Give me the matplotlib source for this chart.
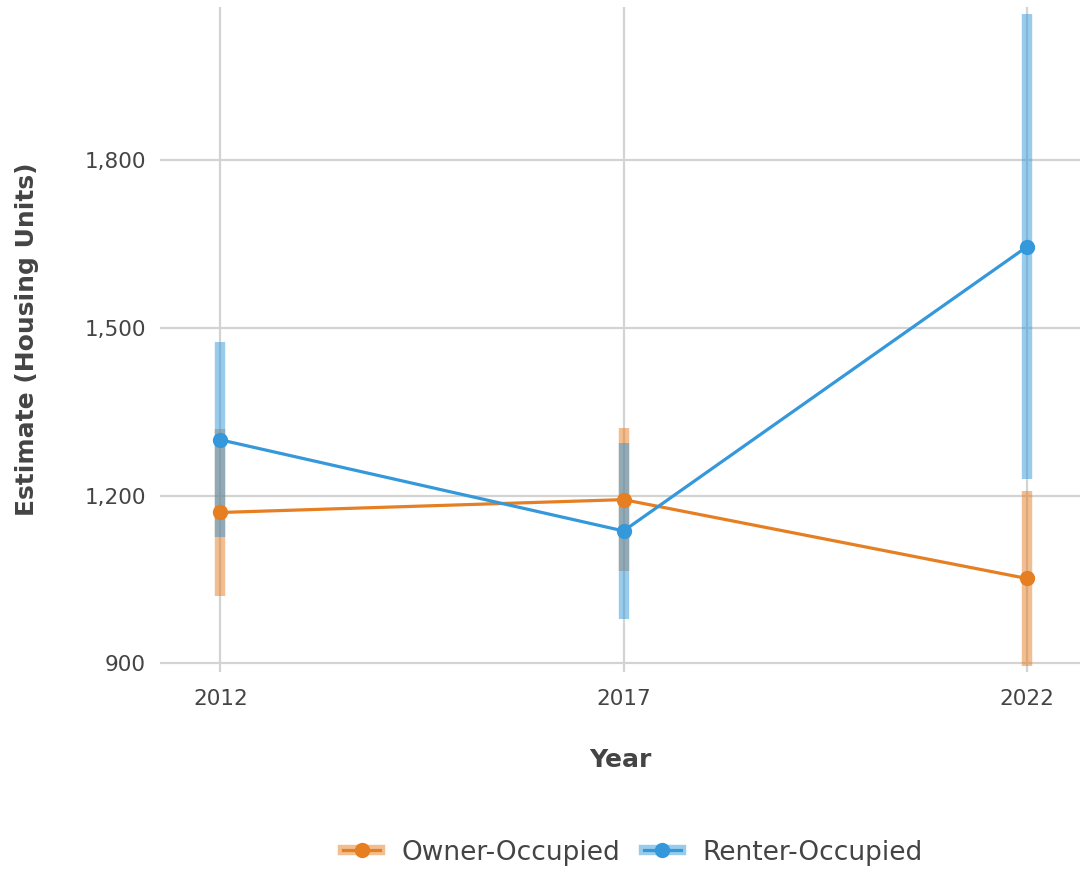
import matplotlib.pyplot as plt
from matplotlib.lines import Line2D
from matplotlib.ticker import FuncFormatter

years = [2012, 2017, 2022]
owner_est = [1170, 1193, 1052]
owner_moe = [150, 128, 157]
renter_est = [1300, 1137, 1645]
renter_moe = [174, 158, 416]

orange = '#E67E22'
blue = '#3498DB'
grid_c = '#D3D3D3'
text_c = '#444444'

plt.rcParams['font.family'] = ['DejaVu Sans']

fig = plt.figure(figsize=(10.8, 8.71), dpi=100)
ax = fig.add_axes([0.148, 0.228, 0.852, 0.764])

# error bars first so lines and points sit above
for est, moe, col in [(owner_est, owner_moe, orange), (renter_est, renter_moe, blue)]:
    ax.vlines(years, [e - m for e, m in zip(est, moe)], [e + m for e, m in zip(est, moe)],
              color=col, alpha=0.5, linewidth=7.5, zorder=2)
ax.plot(years, owner_est, color=orange, linewidth=2.3, marker='o', markersize=10, zorder=3)
ax.plot(years, renter_est, color=blue, linewidth=2.3, marker='o', markersize=10, zorder=3)

ax.set_xlim(2011.25, 2022.66)
ax.set_ylim(884, 2074)
ax.set_xticks(years)
ax.set_yticks([900, 1200, 1500, 1800])
ax.yaxis.set_major_formatter(FuncFormatter(lambda v, p: f'{int(v):,}'))
ax.grid(True, color=grid_c, linewidth=1.6)
ax.set_axisbelow(True)
for s in ax.spines.values():
    s.set_visible(False)
ax.tick_params(length=0, labelsize=15.5, labelcolor=text_c)
ax.tick_params(axis='x', pad=12)
ax.tick_params(axis='y', pad=10)

ax.set_xlabel('Year', fontsize=18, fontweight='bold', color=text_c, labelpad=28)
ax.set_ylabel('Estimate (Housing Units)', fontsize=18, fontweight='bold', color=text_c, labelpad=33)

h_owner = (Line2D([], [], color=orange, alpha=0.5, linewidth=7.5),
           Line2D([], [], color=orange, linewidth=2.3, marker='o', markersize=10))
h_renter = (Line2D([], [], color=blue, alpha=0.5, linewidth=7.5),
            Line2D([], [], color=blue, linewidth=2.3, marker='o', markersize=10))
fig.legend([h_owner, h_renter], ['Owner-Occupied', 'Renter-Occupied'],
           loc='center', bbox_to_anchor=(0.586, 0.021), ncol=2, frameon=False,
           fontsize=19, labelcolor=text_c, handlelength=1.4, columnspacing=0.9, handletextpad=0.8)

fig.savefig('out.png', dpi=100)
